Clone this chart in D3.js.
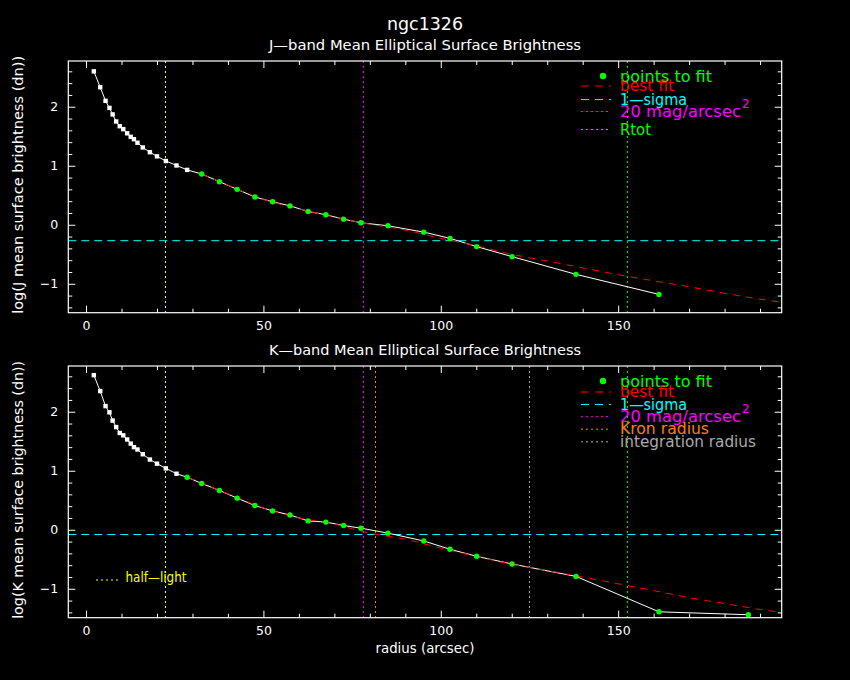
<!DOCTYPE html>
<html>
<head>
<meta charset="utf-8">
<script src="https://cdn.jsdelivr.net/npm/d3@7"></script>
<style>
  body { margin: 0; background: #000; }
  text { font-family: "DejaVu Sans", sans-serif; }
</style>
</head>
<body>
<div id="chart"></div>
<script>
//radii of the isophotes (arcsec), same for both bands, K has one extra
var radius = [2.2, 4.0, 5.5, 6.6, 7.5, 8.5, 9.5, 10.5, 11.6, 12.6, 13.5, 14.5, 16.0, 18.0, 20.0, 22.5, 25.5, 28.5,
              32.6, 37.6, 42.6, 47.6, 52.6, 57.5, 62.6, 67.6, 72.6, 77.5, 85.1, 95.2, 102.6, 110.1, 120.1, 138.1, 161.5, 186.7];

//log mean surface brightness (dn)
var jLogSB = [2.60, 2.33, 2.10, 1.98, 1.87, 1.75, 1.67, 1.62, 1.55, 1.49, 1.45, 1.39, 1.31, 1.23, 1.16, 1.08, 1.005, 0.93,
              0.86, 0.73, 0.60, 0.47, 0.39, 0.32, 0.225, 0.17, 0.095, 0.034, -0.017, -0.125, -0.23, -0.37, -0.54, -0.84, -1.18];
var kLogSB = [2.62, 2.35, 2.095, 1.99, 1.85, 1.74, 1.64, 1.60, 1.53, 1.46, 1.40, 1.36, 1.28, 1.19, 1.12, 1.04, 0.95, 0.89,
              0.785, 0.666, 0.536, 0.41, 0.32, 0.25, 0.15, 0.13, 0.073, 0.027, -0.057, -0.19, -0.33, -0.45, -0.58, -0.79, -1.39, -1.44];

//first radius used in the fit (green points)
var jFitFrom = 32.6;
var kFitFrom = 28.5;

//best fit curves
var jFitR = [32.6, 40, 50, 60, 70, 80, 90, 100, 110, 120, 130, 140, 150, 160, 170, 180, 190, 196];
var jFitV = [0.86, 0.67, 0.43, 0.27, 0.13, 0.01, -0.09, -0.23, -0.355, -0.50, -0.615, -0.73, -0.845, -0.95, -1.05, -1.16, -1.26, -1.31];
var kFitR = [28.5, 35, 40, 50, 60, 70, 76, 80, 90, 100, 110, 120, 130, 140, 150, 160, 170, 180, 190, 196];
var kFitV = [0.89, 0.73, 0.61, 0.37, 0.2, 0.1, 0.0, -0.057, -0.16, -0.31, -0.45, -0.585, -0.69, -0.80, -0.915, -1.03, -1.15, -1.25, -1.35, -1.40];

//1-sigma sky level
var jSigma = -0.27;
var kSigma = -0.08;

//vertical markers (arcsec)
var halfLight = 22.4;
var mag20 = 78.2;
var rTot = 152.6;
var kronRadius = 81.6;
var integRadius = 125.0;

//axis ticks
var xMajor = [0, 50, 100, 150];
var xMinor = [10, 20, 30, 40, 60, 70, 80, 90, 110, 120, 130, 140, 160, 170, 180, 190];
var yMajor = [-1, 0, 1, 2];
var yMinor = [-1.4, -1.2, -0.8, -0.6, -0.4, -0.2, 0.2, 0.4, 0.6, 0.8, 1.2, 1.4, 1.6, 1.8, 2.2, 2.4, 2.6];

//text
var title = "ngc1326";
var jTitle = "J\u2014band Mean Elliptical Surface Brightness";
var kTitle = "K\u2014band Mean Elliptical Surface Brightness";
var jYLabel = "log(J mean surface brightness (dn))";
var kYLabel = "log(K mean surface brightness (dn))";
var xLabel = "radius (arcsec)";
var jLegendLabels = ["points to fit", "best fit", "1\u2014sigma", "20 mag/arcsec", "Rtot"];
var kLegendLabels = ["points to fit", "best fit", "1\u2014sigma", "20 mag/arcsec", "Kron radius", "integration radius"];

var w = 850;
var h = 680;

var svg = d3.select("#chart")
    .append("svg")
    .attr("width", w)
    .attr("height", h);

svg.append("rect")
    .attr("width", w)
    .attr("height", h)
    .attr("fill", "#000");

//x scale shared by both panels
var xScale = d3.scaleLinear()
    .domain([-5, 196.1])
    .range([68.3, 781.7]);

var dotted = "2,3";

//stretch a text to the width it has in the plot
function fit(sel, len) {
    return sel.attr("textLength", len).attr("lengthAdjust", "spacingAndGlyphs");
}

function panel(opt) {
    var top = opt.top, bottom = opt.bottom;
    var left = xScale.range()[0], right = xScale.range()[1];

    var yScale = d3.scaleLinear()
        .domain([-1.49, 2.775])
        .range([bottom, top]);

    var g = svg.append("g");

    //clip everything to the frame
    g.append("clipPath")
        .attr("id", opt.id)
        .append("rect")
        .attr("x", left)
        .attr("y", top)
        .attr("width", right - left)
        .attr("height", bottom - top);

    var plot = g.append("g").attr("clip-path", "url(#" + opt.id + ")");

    //vertical markers
    opt.vlines.forEach(function(v) {
        plot.append("line")
            .attr("x1", xScale(v.r)).attr("x2", xScale(v.r))
            .attr("y1", top).attr("y2", bottom)
            .attr("stroke", v.color)
            .attr("stroke-dasharray", dotted);
    });

    //1-sigma line
    plot.append("line")
        .attr("x1", left).attr("x2", right)
        .attr("y1", yScale(opt.sigma)).attr("y2", yScale(opt.sigma))
        .attr("stroke", "#00ffff")
        .attr("stroke-dasharray", "8,5");

    var pts = opt.values.map(function(v, i) { return [radius[i], v]; });

    var line = d3.line()
        .x(function(d) { return xScale(d[0]); })
        .y(function(d) { return yScale(d[1]); });

    //data line
    plot.append("path")
        .datum(pts)
        .attr("d", line)
        .attr("fill", "none")
        .attr("stroke", "#fff")
        .attr("stroke-width", 1);

    //best fit
    plot.append("path")
        .datum(opt.fitR.map(function(r, i) { return [r, opt.fitV[i]]; }))
        .attr("d", line.curve(d3.curveMonotoneX))
        .attr("fill", "none")
        .attr("stroke", "#ff0000")
        .attr("stroke-dasharray", "7,6");
    line.curve(d3.curveLinear);

    //points not in the fit
    plot.selectAll(".sq")
        .data(pts.filter(function(d) { return d[0] < opt.fitFrom; }))
        .enter().append("rect")
        .attr("x", function(d) { return xScale(d[0]) - 2.2; })
        .attr("y", function(d) { return yScale(d[1]) - 2.2; })
        .attr("width", 4.4)
        .attr("height", 4.4)
        .attr("fill", "#fff");

    //points to fit
    plot.selectAll(".fit")
        .data(pts.filter(function(d) { return d[0] >= opt.fitFrom; }))
        .enter().append("circle")
        .attr("cx", function(d) { return xScale(d[0]); })
        .attr("cy", function(d) { return yScale(d[1]); })
        .attr("r", 2.7)
        .attr("fill", "#00ff00");

    //axes, ticks pointing inwards on all four sides
    var axes = [
        [d3.axisBottom(xScale), xMajor, xMinor, "translate(0," + bottom + ")", true, 8],
        [d3.axisTop(xScale), xMajor, xMinor, "translate(0," + top + ")", false, 8],
        [d3.axisLeft(yScale), yMajor, yMinor, "translate(" + left + ",0)", true, 10],
        [d3.axisRight(yScale), yMajor, yMinor, "translate(" + right + ",0)", false, 8]
    ];
    axes.forEach(function(a) {
        var major = g.append("g")
            .attr("transform", a[3])
            .call(a[0].tickValues(a[1]).tickSizeInner(-7).tickSizeOuter(0)
                .tickPadding(a[5])
                .tickFormat(a[4] ? d3.format("d") : ""));
        major.select(".domain").remove();
        major.selectAll("line").attr("stroke", "#fff");
        major.selectAll("text").attr("fill", "#fff").style("font-size", "12.5px");

        var minor = g.append("g")
            .attr("transform", a[3])
            .call(a[0].tickValues(a[2]).tickSizeInner(-4).tickFormat(""));
        minor.select(".domain").remove();
        minor.selectAll("line").attr("stroke", "#fff");
    });

    //frame
    g.append("rect")
        .attr("x", left).attr("y", top)
        .attr("width", right - left).attr("height", bottom - top)
        .attr("fill", "none")
        .attr("stroke", "#fff")
        .attr("stroke-width", 1.2);

    //panel title
    fit(g.append("text")
        .attr("x", 425).attr("y", top - 11)
        .attr("text-anchor", "middle")
        .attr("fill", "#fff")
        .style("font-size", "13.5px")
        .text(opt.title), 312);

    //y label
    fit(g.append("text")
        .attr("transform", "translate(23," + ((top + bottom) / 2 - 2) + ") rotate(-90)")
        .attr("text-anchor", "middle")
        .attr("fill", "#fff")
        .style("font-size", "13.5px")
        .text(opt.yLabel), 258);

    //legend
    var lx1 = 581, lx2 = 611, tx = 620;
    opt.legend.forEach(function(item, i) {
        var ly = top + opt.rows[i];
        if (item.kind === "dot") {
            g.append("circle")
                .attr("cx", 603).attr("cy", ly - 1)
                .attr("r", 3.2)
                .attr("fill", item.color);
        } else {
            g.append("line")
                .attr("x1", lx1).attr("x2", lx2)
                .attr("y1", ly).attr("y2", ly)
                .attr("stroke", item.color)
                .attr("stroke-dasharray", item.kind === "dash" ? "8,6" : dotted);
        }
        var t = g.append("text")
            .attr("x", tx).attr("y", ly + 5)
            .attr("fill", item.color)
            .style("font-size", "15px");
        fit(t.append("tspan").text(item.label), item.len);
        if (item.sup) {
            t.append("tspan")
                .attr("dy", -9)
                .attr("dx", 1)
                .style("font-size", "12px")
                .text(item.sup);
        }
    });

    return g;
}

var green = "#00ff00", red = "#ff0000", cyan = "#00ffff", magenta = "#ff00ff",
    yellow = "#ffff00", orange = "#ff8000", grey = "#aaaaaa";

panel({
    id: "clipJ", top: 61, bottom: 312.7,
    values: jLogSB, fitFrom: jFitFrom, fitR: jFitR, fitV: jFitV, sigma: jSigma,
    title: jTitle, yLabel: jYLabel,
    vlines: [{r: halfLight, color: yellow}, {r: mag20, color: magenta}, {r: rTot, color: green}],
    rows: [16, 25, 38.5, 50.5, 68.5],
    legend: [
        {label: jLegendLabels[0], color: green, kind: "dot", len: 92},
        {label: jLegendLabels[1], color: red, kind: "dash", len: 54},
        {label: jLegendLabels[2], color: cyan, kind: "dash", len: 67},
        {label: jLegendLabels[3], color: magenta, kind: "dot-line", sup: "2", len: 121},
        {label: jLegendLabels[4], color: green, kind: "dot-line", len: 31}
    ]
});

var kPanel = panel({
    id: "clipK", top: 366, bottom: 617.7,
    values: kLogSB, fitFrom: kFitFrom, fitR: kFitR, fitV: kFitV, sigma: kSigma,
    title: kTitle, yLabel: kYLabel,
    vlines: [{r: halfLight, color: yellow}, {r: mag20, color: magenta}, {r: kronRadius, color: orange},
             {r: integRadius, color: grey}, {r: rTot, color: green}],
    rows: [16, 26, 38.5, 50.7, 63.2, 75.8],
    legend: [
        {label: kLegendLabels[0], color: green, kind: "dot", len: 92},
        {label: kLegendLabels[1], color: red, kind: "dash", len: 54},
        {label: kLegendLabels[2], color: cyan, kind: "dash", len: 67},
        {label: kLegendLabels[3], color: magenta, kind: "dot-line", sup: "2", len: 121},
        {label: kLegendLabels[4], color: orange, kind: "dot-line", len: 89},
        {label: kLegendLabels[5], color: grey, kind: "dot-line", len: 136}
    ]
});

//half-light label in the K panel
kPanel.append("line")
    .attr("x1", 96).attr("x2", 118)
    .attr("y1", 580).attr("y2", 580)
    .attr("stroke", yellow)
    .attr("stroke-dasharray", dotted);
fit(kPanel.append("text")
    .attr("x", 125.5).attr("y", 582)
    .attr("fill", yellow)
    .style("font-size", "13.5px")
    .text("half\u2014light"), 61);

//main title and x label
fit(svg.append("text")
    .attr("x", 425).attr("y", 30)
    .attr("text-anchor", "middle")
    .attr("fill", "#fff")
    .style("font-size", "17px")
    .text(title), 76);

fit(svg.append("text")
    .attr("x", 425).attr("y", 653)
    .attr("text-anchor", "middle")
    .attr("fill", "#fff")
    .style("font-size", "13.5px")
    .text(xLabel), 99);
</script>
</body>
</html>
